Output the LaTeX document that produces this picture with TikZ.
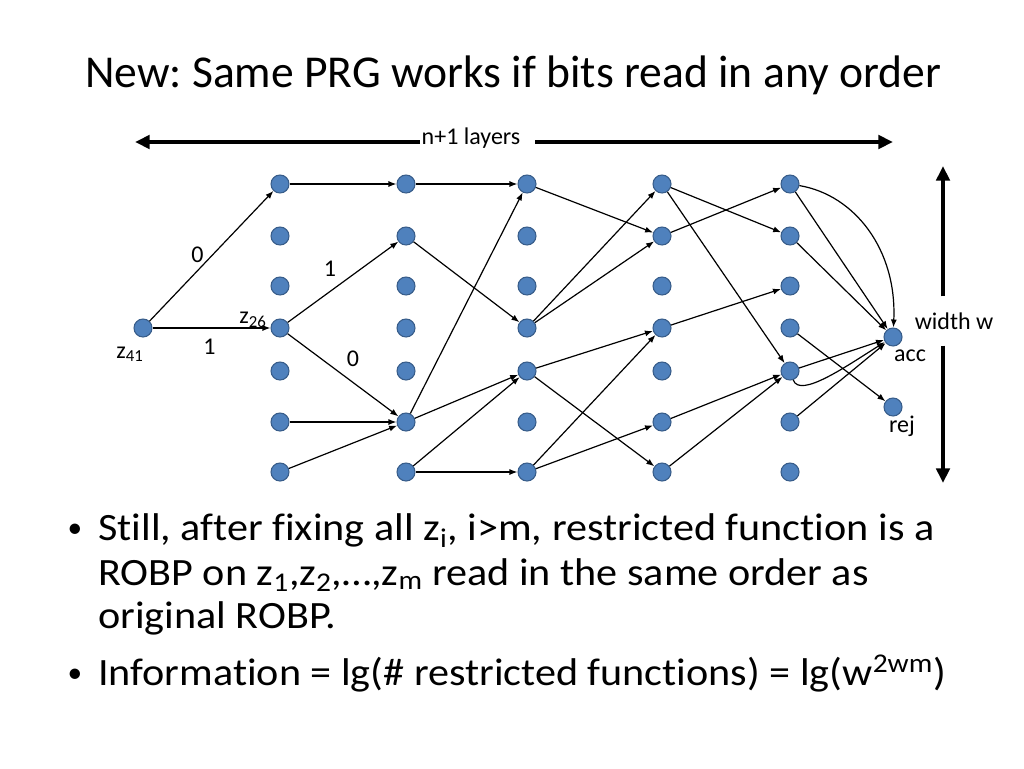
\documentclass[tikz,border=0pt]{standalone}
\usepackage{fontspec}
\setmainfont{Carlito}[Ligatures=NoCommon]
\newfontfamily\bodyfont{Carlito}[Ligatures=NoCommon, FakeStretch=1.09]
\frenchspacing
\usetikzlibrary{arrows.meta, positioning}
\definecolor{nodeblue}{HTML}{4F81BD}
\definecolor{nodeline}{HTML}{385D8A}
\tikzset{
    state/.style={circle, draw=nodeline, fill=nodeblue, line width=.8pt, minimum size=13.5pt, inner sep=0pt},
    edge/.style={-{Latex[length=6pt, width=4.5pt]}, line width=.9pt},
    bigarrow/.style={-{Triangle[length=11pt, width=10pt]}, line width=3.5pt},
    lbl/.style={font=\fontsize{18}{20}\selectfont, inner sep=1pt},
    body/.style={font=\bodyfont\fontsize{29}{33}\selectfont, inner sep=0pt, anchor=base west},
    dot/.style={font=\fontsize{22}{24}\selectfont, inner sep=0pt, anchor=base},
}
\begin{document}
\begin{tikzpicture}[x=.75pt, y=-.75pt]
        \useasboundingbox (0, 0) rectangle (1024, 768);
        \node[font=\fontsize{34.2}{40}\selectfont, anchor=base] (title) at (513, 87) {New: Same PRG works if bits read in any order};
        \node[state] (z41) at (143, 328) {};
        \foreach \x [count=\c] in {280, 406, 527, 662, 790} {
                \foreach \y [count=\r from 0] in {184, 236, 286, 328, 371, 422, 472} {
                        \node[state] (v\c-\r) at (\x, \y) {};
                    }
            }
        \node[state] (acc) at (893, 337) {};
        \node[state] (rej) at (893, 407) {};
        \node[lbl] (z41lbl) at (130, 354) {z\textsubscript{41}};
        \node[lbl] (z26lbl) at (253, 320) {z\textsubscript{26}};
        \node[lbl] (acclbl) at (910, 356) {acc};
        \node[lbl] (rejlbl) at (902, 426) {rej};
        \draw[edge] (z41) -- node[lbl, shift={(-14, -1)}] (e0) {0} (v1-0);
        \draw[edge] (z41) -- node[lbl, shift={(-2, 19)}] (e1) {1} (v1-3);
        \draw[edge] (v1-3) -- node[lbl, shift={(-13, -13)}] (f1) {1} (v2-1);
        \draw[edge] (v1-3) -- node[lbl, shift={(10, -16)}] (f0) {0} (v2-5);
        \foreach \a/\b in {v1-0/v2-0, v1-5/v2-5, v1-6/v2-5,
                v2-0/v3-0, v2-1/v3-3, v2-5/v3-0, v2-5/v3-4, v2-6/v3-4, v2-6/v3-6,
                v3-0/v4-1, v3-3/v4-0, v3-3/v4-1, v3-4/v4-3, v3-4/v4-6, v3-6/v4-3, v3-6/v4-5,
                v4-0/v5-1, v4-0/v5-4, v4-1/v5-0, v4-3/v5-2, v4-5/v5-4, v4-6/v5-4,
                v5-0/acc, v5-1/acc, v5-3/rej, v5-4/acc, v5-5/acc} {
                \draw[edge] (\a) -- (\b);
            }
        \draw[edge] (v5-0) .. controls +(65, 11) and +(4, -87) .. (acc);
        \draw[edge] (v5-4) .. controls +(10, 28) and +(-45, 28) .. (acc);
        \node[lbl] (layers) at (471, 138) {n+1 layers};
        \coordinate (layL) at (135, 142);
        \coordinate (layR) at (893, 142);
        \draw[bigarrow] (layers.west |- layL) -- (layL);
        \draw[bigarrow] ([xshift=10pt]layers.east |- layR) -- (layR);
        \node[lbl, inner ysep=12pt] (width) at (954, 321) {width w};
        \coordinate (widT) at (943, 166);
        \coordinate (widB) at (943, 483);
        \draw[bigarrow] (widT |- width.north) -- (widT);
        \draw[bigarrow] (widB |- width.south) -- (widB);
        \node[dot] (dot1) at (75, 537) {•};
        \node[body] (b1a) at (98, 540) {Still, after fixing all z\textsubscript{i}, i>m, restricted function is a};
        \node[body] (b1b) at (98, 585) {ROBP on z\textsubscript{1},z\textsubscript{2},…,z\textsubscript{m} read in the same order as};
        \node[body] (b1c) at (98, 628) {original ROBP.};
        \node[dot] (dot2) at (75, 682) {•};
        \node[body] (b2) at (98, 685) {Information = lg(\# restricted functions) = lg(w\textsuperscript{2wm})};
    \end{tikzpicture}
\end{document}
